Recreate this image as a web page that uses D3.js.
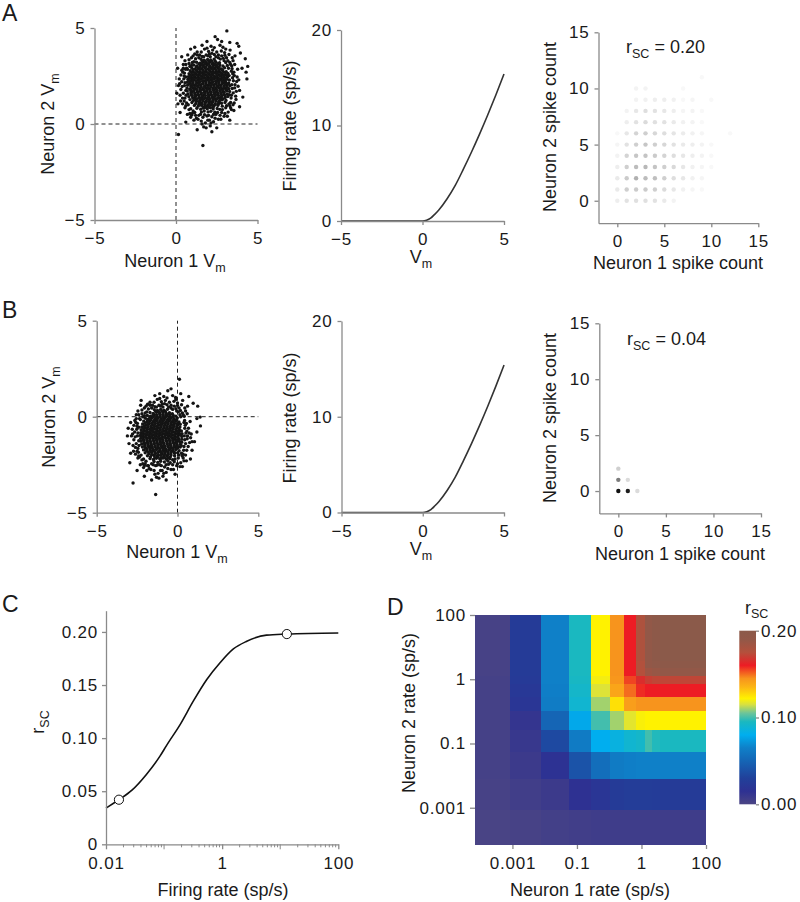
<!DOCTYPE html>
<html><head><meta charset="utf-8">
<script src="https://cdn.jsdelivr.net/npm/d3@7"></script>
<style>
body{margin:0;background:#fff;}
svg{display:block;}
</style></head><body>
<svg id="fig" width="800" height="902"></svg>
<script>
// ---------------- DATA ----------------
const vmTicks = [-5, 0, 5];
const rateTicks = [0, 10, 20];
const countTicks = [0, 5, 10, 15];

// Panel A scatter (Neuron 1 Vm, Neuron 2 Vm)
const scatterA = [
[1.56,0.62],[1.73,0.68],[1.97,0.63],[2.14,0.66],[2.38,0.61],
[1.28,0.82],[1.52,0.77],[1.69,0.83],[1.92,0.79],[2.11,0.84],[2.28,0.78],[2.53,0.81],[2.69,0.76],
[1.13,0.97],[1.36,0.93],[1.55,0.98],[1.77,0.92],[1.94,0.96],[2.16,0.99],[2.33,0.94],[2.57,0.97],[2.84,0.93],
[0.98,1.12],[1.21,1.07],[1.42,1.11],[1.58,1.08],[1.81,1.13],[2.02,1.09],[2.19,1.12],[2.41,1.06],[2.62,1.11],[2.79,1.08],[3.01,1.12],
[0.86,1.27],[1.07,1.22],[1.24,1.28],[1.46,1.23],[1.63,1.26],[1.86,1.21],[2.04,1.27],[2.27,1.24],[2.44,1.29],[2.66,1.22],[2.83,1.26],[3.07,1.23],
[0.79,1.42],[1.02,1.37],[1.18,1.41],[1.41,1.38],[1.62,1.43],[1.79,1.36],[2.01,1.42],[2.22,1.39],[2.38,1.44],[2.61,1.37],[2.79,1.41],[3.02,1.38],[3.18,1.43],
[0.74,1.57],[0.93,1.52],[1.16,1.56],[1.33,1.53],[1.55,1.58],[1.74,1.51],[1.97,1.56],[2.13,1.54],[2.36,1.57],[2.55,1.52],[2.76,1.58],[2.93,1.53],[3.14,1.56],[3.27,1.52],
[0.69,1.72],[0.91,1.67],[1.08,1.71],[1.31,1.68],[1.49,1.73],[1.72,1.66],[1.88,1.71],[2.09,1.69],[2.31,1.74],[2.48,1.67],[2.71,1.72],[2.88,1.68],[3.11,1.73],[3.29,1.69],
[0.67,1.87],[0.84,1.82],[1.06,1.86],[1.23,1.83],[1.46,1.88],[1.64,1.81],[1.85,1.86],[2.04,1.84],[2.26,1.87],[2.43,1.82],[2.65,1.88],[2.84,1.83],[3.03,1.86],[3.24,1.84],
[0.71,2.02],[0.92,1.97],[1.13,2.01],[1.32,1.98],[1.51,2.03],[1.74,1.96],[1.93,2.01],[2.12,1.99],[2.34,2.04],[2.53,1.97],[2.72,2.02],[2.94,1.98],[3.12,2.03],[3.31,1.99],
[0.68,2.17],[0.87,2.12],[1.04,2.16],[1.27,2.13],[1.43,2.18],[1.66,2.11],[1.84,2.16],[2.06,2.14],[2.23,2.17],[2.46,2.12],[2.63,2.18],[2.86,2.13],[3.04,2.16],[3.23,2.14],
[0.73,2.32],[0.94,2.27],[1.12,2.31],[1.34,2.28],[1.53,2.33],[1.72,2.26],[1.94,2.31],[2.13,2.29],[2.32,2.34],[2.54,2.27],[2.73,2.32],[2.92,2.28],[3.13,2.33],[3.28,2.29],
[0.76,2.47],[0.96,2.42],[1.14,2.46],[1.36,2.43],[1.57,2.48],[1.76,2.41],[1.95,2.46],[2.16,2.44],[2.36,2.47],[2.55,2.42],[2.77,2.48],[2.96,2.43],[3.17,2.46],[3.26,2.52],
[0.8,2.62],[1.03,2.57],[1.21,2.61],[1.42,2.58],[1.63,2.63],[1.82,2.56],[2.03,2.61],[2.22,2.59],[2.44,2.64],[2.63,2.57],[2.82,2.62],[3.04,2.58],[3.19,2.63],
[0.87,2.77],[1.06,2.72],[1.27,2.76],[1.46,2.73],[1.67,2.78],[1.86,2.71],[2.07,2.76],[2.26,2.74],[2.47,2.77],[2.66,2.72],[2.86,2.78],[3.08,2.73],
[0.97,2.92],[1.16,2.87],[1.37,2.91],[1.58,2.88],[1.77,2.93],[1.98,2.86],[2.17,2.91],[2.38,2.89],[2.57,2.92],[2.78,2.87],[2.98,2.93],
[1.09,3.07],[1.28,3.02],[1.49,3.06],[1.68,3.03],[1.89,3.08],[2.08,3.01],[2.29,3.06],[2.48,3.04],[2.69,3.07],[2.88,3.02],
[1.26,3.22],[1.47,3.17],[1.66,3.21],[1.87,3.18],[2.06,3.23],[2.27,3.16],[2.46,3.21],[2.67,3.19],
[1.54,3.37],[1.73,3.32],[1.94,3.36],[2.13,3.33],[2.34,3.38],
[1.66,0.88],[1.85,0.86],[2.04,0.89],[2.26,0.87],
[1.41,1.03],[1.61,1.01],[1.79,1.04],[2.01,1.02],[2.2,1.03],[2.39,1.01],[2.6,1.04],
[1.26,1.18],[1.45,1.16],[1.66,1.19],[1.85,1.17],[2.06,1.18],[2.25,1.16],[2.46,1.19],[2.65,1.17],
[1.1,1.33],[1.3,1.31],[1.51,1.34],[1.7,1.32],[1.91,1.33],[2.1,1.31],[2.31,1.34],[2.5,1.32],[2.71,1.33],[2.9,1.31],
[1.0,1.48],[1.2,1.46],[1.41,1.49],[1.6,1.47],[1.81,1.48],[2.0,1.46],[2.21,1.49],[2.4,1.47],[2.61,1.48],[2.8,1.46],[3.0,1.49],
[0.95,1.63],[1.15,1.61],[1.36,1.64],[1.55,1.62],[1.76,1.63],[1.95,1.61],[2.16,1.64],[2.35,1.62],[2.56,1.63],[2.75,1.61],[2.96,1.64],
[0.9,1.78],[1.1,1.76],[1.3,1.79],[1.5,1.77],[1.7,1.78],[1.9,1.76],[2.1,1.79],[2.3,1.77],[2.5,1.78],[2.7,1.76],[2.9,1.79],[3.1,1.77],
[0.95,1.93],[1.15,1.91],[1.35,1.94],[1.55,1.92],[1.75,1.93],[1.95,1.91],[2.15,1.94],[2.35,1.92],[2.55,1.93],[2.75,1.91],[2.95,1.94],[3.14,1.92],
[0.82,2.08],[1.02,2.06],[1.22,2.09],[1.42,2.07],[1.62,2.08],[1.83,2.06],[2.03,2.09],[2.23,2.07],[2.43,2.08],[2.63,2.06],[2.83,2.09],[3.03,2.07],[3.2,2.08],
[0.84,2.23],[1.03,2.21],[1.23,2.24],[1.44,2.22],[1.63,2.23],[1.83,2.21],[2.03,2.24],[2.24,2.22],[2.43,2.23],[2.63,2.21],[2.83,2.24],[3.03,2.22],
[0.85,2.38],[1.05,2.36],[1.25,2.39],[1.45,2.37],[1.65,2.38],[1.85,2.36],[2.05,2.39],[2.25,2.37],[2.45,2.38],[2.65,2.36],[2.85,2.39],[3.05,2.37],
[0.9,2.53],[1.1,2.51],[1.3,2.54],[1.5,2.52],[1.7,2.53],[1.9,2.51],[2.1,2.54],[2.3,2.52],[2.5,2.53],[2.7,2.51],[2.9,2.54],[3.1,2.52],
[0.95,2.68],[1.15,2.66],[1.35,2.69],[1.55,2.67],[1.75,2.68],[1.95,2.66],[2.15,2.69],[2.35,2.67],[2.55,2.68],[2.75,2.66],[2.95,2.69],
[1.05,2.83],[1.25,2.81],[1.45,2.84],[1.65,2.82],[1.85,2.83],[2.05,2.81],[2.25,2.84],[2.45,2.82],[2.65,2.83],[2.85,2.81],
[1.25,2.98],[1.45,2.96],[1.65,2.99],[1.85,2.97],[2.05,2.98],[2.25,2.96],[2.45,2.99],[2.65,2.97],
[1.4,3.13],[1.6,3.11],[1.8,3.14],[2.0,3.12],[2.2,3.13],[2.4,3.11],[2.6,3.14],
[1.6,3.28],[1.8,3.26],[2.0,3.29],[2.2,3.27],[2.4,3.28],
[3.42,2.05],[3.51,1.62],[3.47,2.41],[3.6,1.88],[3.38,1.35],[3.55,2.7],[3.72,2.21],[3.66,1.45],[3.44,2.88],[3.81,1.97],[3.35,1.12],[3.58,2.52],[3.7,1.7],
[3.15,3.05],[3.3,3.2],[2.95,3.3],[3.42,3.02],[3.1,3.45],[2.8,3.55],[3.25,3.62],[3.5,3.3],[2.98,3.72],[3.6,3.1],[3.05,3.9],
[1.6,3.52],[1.85,3.6],[2.1,3.5],[2.35,3.62],[2.6,3.45],[1.4,3.45],[2.0,3.78],[2.25,3.85],[1.75,3.9],[2.5,3.75],[2.15,4.05],[1.55,3.75],
[1.0,3.2],[0.85,3.0],[1.2,3.4],[0.7,2.85],[0.95,3.45],[0.6,3.1],[1.15,3.65],[0.45,2.9],[0.8,3.35],
[0.52,2.0],[0.45,1.6],[0.5,2.5],[0.35,2.2],[0.55,1.35],[0.3,1.8],[0.42,2.7],[0.2,2.35],[0.25,1.5],[0.15,2.0],[0.58,2.85],
[0.65,1.1],[0.8,0.75],[1.0,0.55],[0.55,0.85],[0.9,0.35],[1.2,0.45],[0.4,1.05],[0.7,0.5],[1.1,0.2],
[1.4,0.45],[1.65,0.35],[1.9,0.42],[2.2,0.38],[2.45,0.5],[1.55,0.15],[1.8,0.05],[2.05,0.2],[2.3,0.12],[1.7,-0.15],[2.1,-0.1],[2.6,0.25],
[2.8,0.6],[3.05,0.85],[3.3,0.95],[2.95,0.4],[3.2,0.62],[3.5,1.0],[2.75,0.25],[3.4,0.75],
[3.45,1.85],[3.52,2.25],[3.4,1.5],[3.62,2.05],[3.48,2.62],[3.75,2.45],[3.68,1.28],[3.85,2.3],[3.57,1.1],[3.9,1.75],[3.4,2.75],[3.78,2.85],
[3.22,2.9],[3.35,3.1],[3.05,3.2],[2.9,3.42],[3.18,3.3],[2.72,3.38],[3.45,3.45],[3.0,3.58],[2.78,3.8],[3.32,3.85],[3.62,3.55],[2.88,4.0],
[1.45,3.6],[1.7,3.5],[1.95,3.55],[2.2,3.68],[2.45,3.5],[1.9,3.95],[2.35,3.98],[2.6,3.6],[1.3,3.6],[2.05,3.65],[2.7,4.1],[1.6,4.1],
[0.95,3.05],[1.1,3.25],[0.8,3.15],[0.65,2.9],[1.05,3.55],[0.55,3.3],[0.72,3.6],[1.3,3.75],[0.45,3.1],
[0.55,2.15],[0.6,1.75],[0.48,2.35],[0.38,1.95],[0.62,1.5],[0.3,2.55],[0.52,2.65],[0.4,1.35],[0.22,2.1],[0.28,1.2],[0.6,2.45],[0.36,2.8],
[0.75,1.0],[0.9,0.8],[1.05,0.68],[0.6,0.95],[0.85,0.55],[1.15,0.6],[0.5,1.2],[0.95,0.45],[1.25,0.3],
[1.5,0.5],[1.75,0.48],[2.0,0.45],[2.3,0.5],[2.55,0.6],[1.35,0.25],[1.95,0.2],[2.4,0.3],[1.6,0.0],[2.15,0.05],[1.85,-0.2],
[2.85,0.75],[3.1,0.95],[3.25,1.05],[3.0,0.55],[3.35,0.85],[2.7,0.45],[3.15,0.4],[3.55,0.7],
[3.12,4.85],[1.65,-1.12],[0.15,-0.55],[4.3,2.7],[4.25,3.4],[4.35,2.35],[4.1,1.4],[3.95,3.7],[3.85,4.05],[2.55,4.4],[2.4,4.55],[1.15,4.0],[0.9,3.9],[0.1,2.9],[0.05,1.6],[0.12,1.05],[0.25,0.6],[0.6,0.1],[1.3,-0.3],[2.2,-0.4],[2.5,-0.2],[3.3,0.2],[3.9,0.9],[4.05,2.9],[3.75,4.2],[4.4,3.0],[0.35,3.5],[2.8,4.3],[3.3,4.25],[1.9,4.3]
];

// Panel B scatter
const scatterB = [
[-1.45,-2.33],[-1.22,-2.38],[-1.04,-2.32],[-0.81,-2.36],[-0.6,-2.31],
[-1.7,-2.18],[-1.49,-2.23],[-1.31,-2.17],[-1.08,-2.21],[-0.9,-2.16],[-0.69,-2.22],[-0.48,-2.19],[-0.3,-2.24],
[-1.86,-2.03],[-1.67,-2.08],[-1.45,-2.02],[-1.26,-2.06],[-1.04,-2.01],[-0.85,-2.07],[-0.63,-2.04],[-0.44,-2.09],[-0.18,-2.03],
[-2.0,-1.88],[-1.78,-1.93],[-1.6,-1.87],[-1.37,-1.91],[-1.19,-1.86],[-0.97,-1.92],[-0.79,-1.89],[-0.57,-1.94],[-0.4,-1.87],[-0.18,-1.91],[0.01,-1.88],
[-2.1,-1.73],[-1.91,-1.78],[-1.7,-1.72],[-1.5,-1.76],[-1.31,-1.71],[-1.09,-1.77],[-0.9,-1.74],[-0.69,-1.79],[-0.5,-1.72],[-0.3,-1.76],[-0.1,-1.71],[0.1,-1.77],
[-2.17,-1.58],[-1.98,-1.63],[-1.79,-1.57],[-1.57,-1.61],[-1.38,-1.56],[-1.18,-1.62],[-0.97,-1.59],[-0.78,-1.64],[-0.57,-1.57],[-0.38,-1.61],[-0.19,-1.56],[0.02,-1.62],[0.17,-1.58],
[-2.22,-1.43],[-2.03,-1.48],[-1.84,-1.42],[-1.62,-1.46],[-1.43,-1.41],[-1.22,-1.47],[-1.04,-1.44],[-0.83,-1.49],[-0.63,-1.42],[-0.44,-1.46],[-0.22,-1.41],[-0.04,-1.47],[0.16,-1.44],[0.23,-1.5],
[-2.26,-1.28],[-2.07,-1.33],[-1.87,-1.27],[-1.66,-1.31],[-1.47,-1.26],[-1.27,-1.32],[-1.07,-1.29],[-0.88,-1.34],[-0.68,-1.27],[-0.47,-1.31],[-0.28,-1.26],[-0.07,-1.32],[0.12,-1.29],[0.26,-1.33],
[-2.28,-1.13],[-2.1,-1.18],[-1.9,-1.12],[-1.7,-1.16],[-1.51,-1.11],[-1.3,-1.17],[-1.12,-1.14],[-0.92,-1.19],[-0.71,-1.12],[-0.52,-1.16],[-0.32,-1.11],[-0.13,-1.17],[0.08,-1.14],[0.27,-1.18],
[-2.3,-0.98],[-2.12,-1.03],[-1.93,-0.97],[-1.73,-1.01],[-1.53,-0.96],[-1.33,-1.02],[-1.14,-0.99],[-0.94,-1.04],[-0.74,-0.97],[-0.53,-1.01],[-0.34,-0.96],[-0.15,-1.02],[0.05,-0.99],[0.26,-1.03],
[-2.27,-0.83],[-2.08,-0.88],[-1.88,-0.82],[-1.68,-0.86],[-1.49,-0.81],[-1.28,-0.87],[-1.1,-0.84],[-0.9,-0.89],[-0.69,-0.82],[-0.5,-0.86],[-0.3,-0.81],[-0.11,-0.87],[0.1,-0.84],[0.28,-0.88],
[-2.25,-0.68],[-2.05,-0.73],[-1.86,-0.67],[-1.65,-0.71],[-1.46,-0.66],[-1.26,-0.72],[-1.06,-0.69],[-0.86,-0.74],[-0.67,-0.67],[-0.46,-0.71],[-0.27,-0.66],[-0.07,-0.72],[0.12,-0.69],[0.24,-0.74],
[-2.21,-0.53],[-2.02,-0.58],[-1.82,-0.52],[-1.61,-0.56],[-1.42,-0.51],[-1.22,-0.57],[-1.02,-0.54],[-0.82,-0.59],[-0.63,-0.52],[-0.43,-0.56],[-0.23,-0.51],[-0.03,-0.57],[0.15,-0.54],
[-2.16,-0.38],[-1.96,-0.43],[-1.77,-0.37],[-1.56,-0.41],[-1.37,-0.36],[-1.17,-0.42],[-0.97,-0.39],[-0.77,-0.44],[-0.58,-0.37],[-0.38,-0.41],[-0.18,-0.36],[0.01,-0.42],[0.17,-0.39],
[-2.09,-0.23],[-1.9,-0.28],[-1.7,-0.22],[-1.49,-0.26],[-1.3,-0.21],[-1.1,-0.27],[-0.9,-0.24],[-0.7,-0.29],[-0.51,-0.22],[-0.31,-0.26],[-0.11,-0.21],[0.09,-0.27],
[-1.99,-0.08],[-1.8,-0.13],[-1.6,-0.07],[-1.39,-0.11],[-1.2,-0.06],[-1.0,-0.12],[-0.8,-0.09],[-0.6,-0.14],[-0.41,-0.07],[-0.21,-0.11],[-0.01,-0.06],
[-1.87,0.07],[-1.67,0.02],[-1.47,0.08],[-1.27,0.04],[-1.07,0.09],[-0.87,0.03],[-0.67,0.06],[-0.47,0.01],[-0.27,0.08],[-0.1,0.03],
[-1.7,0.22],[-1.5,0.17],[-1.3,0.23],[-1.1,0.19],[-0.9,0.24],[-0.7,0.18],[-0.5,0.21],[-0.32,0.16],
[-1.44,0.37],[-1.24,0.32],[-1.04,0.38],[-0.84,0.34],[-0.62,0.39],
[-1.4,-2.13],[-1.2,-2.11],[-1.0,-2.14],[-0.8,-2.12],[-0.6,-2.13],
[-1.6,-1.98],[-1.4,-1.96],[-1.2,-1.99],[-1.0,-1.97],[-0.8,-1.98],[-0.6,-1.96],[-0.4,-1.99],
[-1.8,-1.83],[-1.6,-1.81],[-1.4,-1.84],[-1.2,-1.82],[-1.0,-1.83],[-0.8,-1.81],[-0.6,-1.84],[-0.4,-1.82],[-0.2,-1.83],
[-1.9,-1.68],[-1.7,-1.66],[-1.5,-1.69],[-1.3,-1.67],[-1.1,-1.68],[-0.9,-1.66],[-0.7,-1.69],[-0.5,-1.67],[-0.3,-1.68],[-0.1,-1.66],
[-2.0,-1.53],[-1.8,-1.51],[-1.6,-1.54],[-1.4,-1.52],[-1.2,-1.53],[-1.0,-1.51],[-0.8,-1.54],[-0.6,-1.52],[-0.4,-1.53],[-0.2,-1.51],[0.0,-1.54],
[-2.05,-1.38],[-1.85,-1.36],[-1.65,-1.39],[-1.45,-1.37],[-1.25,-1.38],[-1.05,-1.36],[-0.85,-1.39],[-0.65,-1.37],[-0.45,-1.38],[-0.25,-1.36],[-0.05,-1.39],
[-2.1,-1.23],[-1.9,-1.21],[-1.7,-1.24],[-1.5,-1.22],[-1.3,-1.23],[-1.1,-1.21],[-0.9,-1.24],[-0.7,-1.22],[-0.5,-1.23],[-0.3,-1.21],[-0.1,-1.24],[0.08,-1.22],
[-2.2,-1.08],[-2.0,-1.06],[-1.8,-1.09],[-1.6,-1.07],[-1.4,-1.08],[-1.2,-1.06],[-1.0,-1.09],[-0.8,-1.07],[-0.6,-1.08],[-0.4,-1.06],[-0.2,-1.09],[0.0,-1.07],
[-2.2,-0.93],[-2.0,-0.91],[-1.8,-0.94],[-1.6,-0.92],[-1.4,-0.93],[-1.2,-0.91],[-1.0,-0.94],[-0.8,-0.92],[-0.6,-0.93],[-0.4,-0.91],[-0.2,-0.94],[0.0,-0.92],[0.15,-0.93],
[-2.15,-0.78],[-1.95,-0.76],[-1.75,-0.79],[-1.55,-0.77],[-1.35,-0.78],[-1.15,-0.76],[-0.95,-0.79],[-0.75,-0.77],[-0.55,-0.78],[-0.35,-0.76],[-0.15,-0.79],[0.05,-0.77],
[-2.1,-0.63],[-1.9,-0.61],[-1.7,-0.64],[-1.5,-0.62],[-1.3,-0.63],[-1.1,-0.61],[-0.9,-0.64],[-0.7,-0.62],[-0.5,-0.63],[-0.3,-0.61],[-0.1,-0.64],[0.08,-0.62],
[-2.05,-0.48],[-1.85,-0.46],[-1.65,-0.49],[-1.45,-0.47],[-1.25,-0.48],[-1.05,-0.46],[-0.85,-0.49],[-0.65,-0.47],[-0.45,-0.48],[-0.25,-0.46],[-0.05,-0.49],
[-2.0,-0.33],[-1.8,-0.31],[-1.6,-0.34],[-1.4,-0.32],[-1.2,-0.33],[-1.0,-0.31],[-0.8,-0.34],[-0.6,-0.32],[-0.4,-0.33],[-0.2,-0.31],[0.0,-0.34],
[-1.85,-0.18],[-1.65,-0.16],[-1.45,-0.19],[-1.25,-0.17],[-1.05,-0.18],[-0.85,-0.16],[-0.65,-0.19],[-0.45,-0.17],[-0.25,-0.18],[-0.05,-0.16],
[-1.7,-0.03],[-1.5,-0.01],[-1.3,-0.04],[-1.1,-0.02],[-0.9,-0.03],[-0.7,-0.01],[-0.5,-0.04],[-0.3,-0.02],
[-1.5,0.13],[-1.3,0.11],[-1.1,0.14],[-0.9,0.12],[-0.7,0.13],[-0.5,0.11],
[-1.35,0.28],[-1.15,0.26],[-0.95,0.29],[-0.75,0.27],
[0.42,-1.0],[0.5,-1.4],[0.45,-0.6],[0.6,-1.15],[0.38,-1.75],[0.55,-0.35],[0.72,-0.85],[0.66,-1.55],[0.44,-0.2],[0.81,-1.1],[0.35,-1.95],[0.58,-0.75],
[0.15,0.1],[0.3,0.2],[-0.05,0.3],[0.42,0.02],[0.1,0.45],[-0.2,0.55],[0.25,0.62],[0.5,0.3],[0.0,0.72],[0.6,0.15],[-0.1,0.9],
[-1.4,0.52],[-1.15,0.6],[-0.9,0.5],[-0.65,0.62],[-0.4,0.45],[-1.6,0.45],[-1.0,0.78],[-0.75,0.85],[-1.25,0.9],[-0.5,0.75],[-0.85,1.05],[-1.45,0.75],
[-2.0,0.2],[-2.15,0.0],[-1.8,0.4],[-2.3,-0.15],[-2.05,0.45],[-2.4,0.1],[-1.85,0.65],[-2.55,-0.1],[-2.2,0.35],
[-2.48,-1.0],[-2.55,-1.4],[-2.5,-0.5],[-2.65,-0.8],[-2.45,-1.65],[-2.7,-1.2],[-2.58,-0.3],[-2.8,-0.65],[-2.75,-1.5],[-2.85,-1.0],[-2.42,-1.85],
[-2.35,-2.1],[-2.2,-2.25],[-2.0,-2.45],[-2.45,-2.15],[-2.1,-2.65],[-1.8,-2.55],[-2.6,-1.95],[-2.3,-2.5],[-1.9,-2.8],
[-1.6,-2.45],[-1.35,-2.55],[-1.1,-2.5],[-0.8,-2.62],[-0.55,-2.48],[-1.45,-2.8],[-1.2,-2.95],[-0.95,-2.8],[-0.7,-2.9],[-1.3,-3.15],[-0.9,-3.1],[-0.4,-2.75],
[-0.2,-2.35],[0.05,-2.15],[0.3,-2.05],[-0.05,-2.55],[0.2,-2.4],[0.5,-2.0],[-0.25,-2.75],[0.4,-2.3],
[0.45,-1.2],[0.52,-0.85],[0.4,-1.55],[0.62,-1.0],[0.48,-0.45],[0.75,-1.35],[0.68,-0.6],[0.85,-0.9],[0.57,-1.75],[0.9,-1.3],[0.4,-0.3],[0.78,-0.25],
[0.2,0.0],[0.35,0.1],[0.05,0.25],[-0.1,0.42],[0.18,0.32],[-0.3,0.38],[0.45,0.45],[0.0,0.58],[-0.22,0.8],[0.32,0.85],[0.62,0.55],[-0.12,1.0],
[-1.55,0.6],[-1.3,0.5],[-1.05,0.55],[-0.8,0.68],[-0.55,0.5],[-1.1,0.95],[-0.65,0.98],[-0.4,0.6],[-1.7,0.6],[-0.95,0.65],[-0.3,1.1],[-1.4,1.1],
[-2.05,0.05],[-1.9,0.25],[-2.2,0.15],[-2.35,-0.1],[-1.95,0.55],[-2.45,0.3],[-2.28,0.6],[-1.7,0.75],[-2.55,0.1],
[-2.45,-0.85],[-2.4,-1.25],[-2.52,-0.65],[-2.62,-1.05],[-2.38,-1.5],[-2.7,-0.45],[-2.48,-0.35],[-2.6,-1.6],[-2.78,-0.9],[-2.72,-1.8],[-2.4,-0.55],[-2.64,-0.2],
[-2.25,-2.0],[-2.1,-2.2],[-1.95,-2.32],[-2.4,-2.05],[-2.15,-2.45],[-1.85,-2.55],[-2.5,-1.8],[-2.05,-2.55],[-1.75,-2.7],
[-1.5,-2.5],[-1.25,-2.52],[-1.0,-2.55],[-0.7,-2.5],[-0.45,-2.4],[-1.65,-2.75],[-1.05,-2.8],[-0.6,-2.7],[-1.4,-3.0],[-0.85,-2.95],[-1.15,-3.2],
[-0.15,-2.2],[0.1,-2.0],[0.25,-1.9],[0.0,-2.45],[0.35,-2.15],[-0.3,-2.5],[0.15,-2.6],[0.55,-2.3],
[-1.35,-4.05],[-2.75,-3.45],[0.12,1.95],[1.4,-0.02],[1.42,-0.48],[1.2,-0.1],[1.25,0.55],[0.97,0.7],[0.7,1.05],[-0.4,1.45],[-0.6,1.35],[-1.1,1.2],[-2.25,0.85],[-2.9,-0.3],[-3.05,-0.6],[-3.0,-1.4],[-2.9,-1.9],[-2.95,-2.4],[-2.5,-2.8],[-2.05,-3.1],[-1.6,-3.3],[-0.7,-3.3],[-0.15,-3.0],[0.3,-2.6],[0.9,-1.75],[1.05,-1.3],[1.2,-0.8],[0.8,-2.2],[-3.1,-1.0],[0.2,1.2]
];

// Firing-rate nonlinearity (Vm -> sp/s)
const vmGrid = [-5,-4,-3,-2,-1,0,0.25,0.5,0.75,1,1.5,2,2.5,3,3.5,4,4.5,5];
const rateCurve = [0,0,0,0,0,0,0.08,0.3,0.7,1.15,2.3,3.7,5.4,7.2,9.1,11.1,13.2,15.4];

// Joint spike-count distributions (shade 0..1), rows = neuron 2 count 0.., cols = neuron 1 count 0..
const countsA = [
[0.07,0.12,0.13,0.13,0.12,0.09,0.05,0,0,0,0,0,0],
[0.09,0.2,0.22,0.22,0.2,0.15,0.1,0.06,0.04,0.03,0,0,0],
[0.09,0.22,0.33,0.28,0.27,0.2,0.14,0.1,0.06,0.04,0,0,0],
[0.07,0.2,0.28,0.3,0.25,0.2,0.16,0.1,0.06,0.04,0.03,0,0],
[0.05,0.18,0.24,0.25,0.22,0.18,0.14,0.1,0.07,0.05,0.03,0,0],
[0.04,0.12,0.2,0.24,0.2,0.17,0.12,0.09,0.07,0.05,0.03,0,0],
[0.03,0.1,0.18,0.2,0.17,0.14,0.11,0.08,0.06,0.04,0,0,0.03],
[0,0.07,0.12,0.15,0.13,0.12,0.09,0.06,0.05,0.03,0,0,0],
[0,0.05,0.1,0.14,0.12,0.1,0.07,0.04,0.05,0.03,0,0,0],
[0,0,0.05,0.06,0.07,0.07,0.06,0.03,0.04,0,0.03,0,0],
[0,0,0.05,0.05,0,0,0,0.03,0,0,0,0,0],
[0,0,0,0,0,0,0,0,0,0.03,0,0,0]
];
const countsB = [
[1.0,0.95,0.15],
[0.55,0.15],
[0.2]
];
const rscLabels = ["0.20", "0.04"];

// Panel C: rSC vs firing rate
const rateC = [0.01,0.0167,0.028,0.05,0.085,0.11,0.19,0.32,0.54,0.92,1.56,2.6,5.8,13,100];
const rscC  = [0.034,0.042,0.051,0.066,0.083,0.093,0.113,0.135,0.155,0.171,0.184,0.191,0.197,0.198,0.199];
const markedC = [[0.0167,0.042],[13,0.198]];
const rscTicks = [0, 0.05, 0.10, 0.15, 0.20];

// Panel D: heat map (bin edges in axis-tick units, shared by both rates)
const heatTickLabels = ["0.001", "0.1", "1", "100"];
const heatEdges = [-0.58,-0.036,0.45,0.87,1.21,1.51,1.73,1.92,2.05,2.17,2.29,3.0];
const heatRsc = [
[0.001,0.002,0.004,0.005,0.006,0.006,0.006,0.006,0.006,0.006,0.006],
[0.002,0.005,0.008,0.015,0.02,0.025,0.027,0.027,0.027,0.026,0.025],
[0.003,0.008,0.016,0.04,0.055,0.062,0.064,0.065,0.065,0.065,0.065],
[0.003,0.01,0.035,0.062,0.08,0.085,0.09,0.092,0.1,0.096,0.095],
[0.003,0.012,0.05,0.078,0.1,0.11,0.117,0.121,0.122,0.122,0.122],
[0.003,0.02,0.063,0.09,0.11,0.126,0.142,0.145,0.145,0.145,0.145],
[0.003,0.022,0.064,0.092,0.116,0.14,0.15,0.158,0.16,0.16,0.16],
[0.003,0.024,0.065,0.094,0.12,0.144,0.155,0.165,0.17,0.172,0.172],
[0.002,0.025,0.065,0.095,0.122,0.145,0.16,0.175,0.185,0.188,0.19],
[0.002,0.025,0.065,0.095,0.122,0.145,0.16,0.176,0.19,0.195,0.197],
[0.002,0.025,0.065,0.095,0.122,0.145,0.16,0.178,0.19,0.197,0.2]
];
const cmapStops  = [0,0.015,0.03,0.05,0.065,0.08,0.095,0.105,0.115,0.122,0.135,0.145,0.16,0.175,0.19,0.2];
const cmapColors = ["#4b4584","#2e3192","#21409a","#1565b5","#0f80c8","#00aeef","#1ab8c0","#6cc49a","#d8e040","#fff200","#fcb615","#f7941d","#ed1c24","#b4503c","#925848","#8b5a4a"];
const cbarTicks = [0, 0.1, 0.2];

// ---------------- DRAWING ----------------
const FONT = '"Liberation Sans", Arial, Helvetica, sans-serif';
const AXC = "#8a8a8a";
const TXT = "#1a1a1a";
const svg = d3.select("#fig");
svg.append("rect").attr("width",800).attr("height",902).attr("fill","#fff");

function styleAxis(g, noDomain){
  g.attr("font-family", FONT).attr("font-size", 17);
  if (noDomain) g.select(".domain").remove();
  else g.select(".domain").attr("stroke", AXC).attr("stroke-width", 1.3);
  g.selectAll(".tick line").attr("stroke", AXC).attr("stroke-width", 1.3);
  g.selectAll(".tick text").attr("fill", TXT).style("letter-spacing", "0.8px");
}

function label(x, y, main, sub, rest, opt){
  opt = opt || {};
  const t = svg.append("text").attr("font-family", FONT).attr("font-size", opt.fs || 18)
    .attr("fill", TXT).attr("text-anchor", opt.anchor || "middle");
  if (opt.rotate) t.attr("transform", `translate(${x},${y}) rotate(-90)`);
  else t.attr("x", x).attr("y", y);
  t.append("tspan").text(main);
  const sdy = opt.subdy || 5;
  if (sub) t.append("tspan").attr("font-size", opt.subfs || 12.5).attr("dy", sdy).text(sub);
  if (rest) t.append("tspan").attr("dy", -sdy).text(rest);
  return t;
}

function panelLetter(x, y, s){
  svg.append("text").attr("x", x).attr("y", y).attr("font-family", FONT)
    .attr("font-size", 23).attr("fill", TXT).text(s);
}

// --- scatter panels
function scatterPanel(pts, xr, yr){
  const x = d3.scaleLinear().domain([-5,5]).range(xr);
  const y = d3.scaleLinear().domain([-5,5]).range(yr);
  svg.append("line").attr("x1", x(0)).attr("x2", x(0)).attr("y1", y(-5)).attr("y2", y(5))
    .attr("stroke", "#222").attr("stroke-width", 1).attr("stroke-dasharray", "4,3");
  svg.append("line").attr("x1", x(-5)).attr("x2", x(5)).attr("y1", y(0)).attr("y2", y(0))
    .attr("stroke", "#222").attr("stroke-width", 1).attr("stroke-dasharray", "4,3");
  svg.append("g").selectAll("circle").data(pts).join("circle")
    .attr("cx", d => x(d[0])).attr("cy", d => y(d[1])).attr("r", 1.7).attr("fill", "#141414");
  svg.append("g").attr("transform", `translate(${xr[0]},0)`)
    .call(d3.axisLeft(y).tickValues(vmTicks).tickSize(4).tickPadding(5).tickSizeOuter(0))
    .call(g => styleAxis(g));
  svg.append("g").attr("transform", `translate(0,${yr[0]})`)
    .call(d3.axisBottom(x).tickValues(vmTicks).tickSize(4).tickPadding(8).tickSizeOuter(0))
    .call(g => styleAxis(g));
}

// --- nonlinearity panels
function ratePanel(xr, yr){
  const x = d3.scaleLinear().domain([-5,5]).range(xr);
  const y = d3.scaleLinear().domain([0,20]).range(yr);
  const pts = vmGrid.map((v,i) => [v, rateCurve[i]]);
  svg.append("path").datum(pts)
    .attr("d", d3.line().x(d => x(d[0])).y(d => y(d[1])).curve(d3.curveMonotoneX))
    .attr("fill", "none").attr("stroke", "#333").attr("stroke-width", 1.6);
  svg.append("g").attr("transform", `translate(${xr[0]},0)`)
    .call(d3.axisLeft(y).tickValues(rateTicks).tickSize(4).tickPadding(5).tickSizeOuter(0))
    .call(g => styleAxis(g));
  svg.append("g").attr("transform", `translate(0,${yr[0]})`)
    .call(d3.axisBottom(x).tickValues(vmTicks).tickSize(4).tickPadding(8).tickSizeOuter(0))
    .call(g => styleAxis(g));
}

// --- spike count panels
function countPanel(counts, xr, yr){
  const x = d3.scaleLinear().domain([-2,15]).range(xr);
  const y = d3.scaleLinear().domain([-2,15]).range(yr);
  const shade = d3.interpolateRgb("#ffffff", "#111111");
  const cells = [];
  counts.forEach((row, j) => row.forEach((v, i) => { if (v > 0) cells.push({i, j, v}); }));
  svg.append("g").selectAll("circle").data(cells).join("circle")
    .attr("cx", d => x(d.i)).attr("cy", d => y(d.j)).attr("r", 2.2)
    .attr("fill", d => shade(d.v));
  svg.append("g").attr("transform", `translate(${xr[0]},0)`)
    .call(d3.axisLeft(y).tickValues(countTicks).tickSize(4).tickPadding(5).tickSizeOuter(0))
    .call(g => styleAxis(g));
  svg.append("g").attr("transform", `translate(0,${yr[0]})`)
    .call(d3.axisBottom(x).tickValues(countTicks).tickSize(4).tickPadding(8).tickSizeOuter(0))
    .call(g => styleAxis(g));
}

// Row A
panelLetter(2, 21, "A");
scatterPanel(scatterA, [94.5, 257.5], [220, 28]);
label(175, 267, "Neuron 1 V", "m");
label(54, 124, "Neuron 2 V", "m", null, {rotate: true});
ratePanel([341, 504], [221, 30]);
label(421, 263, "V", "m");
label(296, 126, "Firing rate (sp/s)", null, null, {rotate: true});
countPanel(countsA, [598.5, 758.3], [223.2, 32.3]);
label(678, 269, "Neuron 1 spike count");
label(556, 127, "Neuron 2 spike count", null, null, {rotate: true});
label(626, 53, "r", "SC", " = " + rscLabels[0], {anchor: "start"});

// Row B
panelLetter(2, 318, "B");
scatterPanel(scatterB, [96.7, 258.3], [512.7, 320.7]);
label(177, 558, "Neuron 1 V", "m");
label(55, 417, "Neuron 2 V", "m", null, {rotate: true});
ratePanel([341.5, 504], [512.5, 321]);
label(421, 555, "V", "m");
label(296, 418, "Firing rate (sp/s)", null, null, {rotate: true});
countPanel(countsB, [599.3, 761], [513.4, 323.3]);
label(680, 560, "Neuron 1 spike count");
label(556, 418, "Neuron 2 spike count", null, null, {rotate: true});
label(627, 345, "r", "SC", " = " + rscLabels[1], {anchor: "start"});

// Panel C
panelLetter(2, 612, "C");
{
  const x = d3.scaleLog().domain([0.01, 100]).range([106, 338.3]);
  const y = d3.scaleLinear().domain([0, 0.22]).range([844.3, 610.7]);
  const pts = rateC.map((r, i) => [r, rscC[i]]);
  svg.append("path").datum(pts)
    .attr("d", d3.line().x(d => x(d[0])).y(d => y(d[1])).curve(d3.curveMonotoneX))
    .attr("fill", "none").attr("stroke", "#111").attr("stroke-width", 1.6);
  svg.append("g").selectAll("circle").data(markedC).join("circle")
    .attr("cx", d => x(d[0])).attr("cy", d => y(d[1])).attr("r", 4.6)
    .attr("fill", "#fff").attr("stroke", "#111").attr("stroke-width", 1);
  svg.append("g").attr("transform", "translate(106,0)")
    .call(d3.axisLeft(y).tickValues(rscTicks).tickSize(4).tickPadding(4).tickSizeOuter(0)
      .tickFormat(d => d === 0 ? "0" : d3.format(".2f")(d)))
    .call(g => styleAxis(g));
  const gx = svg.append("g").attr("transform", "translate(0,844.3)")
    .call(d3.axisBottom(x).tickValues([0.01, 1, 100]).tickSize(5).tickPadding(8).tickSizeOuter(0)
      .tickFormat(d => String(d)))
    .call(g => styleAxis(g));
  const minor = x.ticks().filter(v => [0.01, 1, 100].indexOf(v) < 0);
  gx.selectAll("line.minor").data(minor).join("line").attr("class", "minor")
    .attr("x1", d => x(d)).attr("x2", d => x(d)).attr("y1", 0)
    .attr("y2", d => Math.abs(Math.log10(d) - Math.round(Math.log10(d))) < 1e-9 ? 5 : 3)
    .attr("stroke", AXC).attr("stroke-width", 1);
  label(223, 896, "Firing rate (sp/s)");
  label(44, 722, "r", "SC", null, {rotate: true});
}

// Panel D
panelLetter(387, 615, "D");
{
  const x = d3.scaleLinear().domain([heatEdges[0], 3]).range([475, 706]);
  const y = d3.scaleLinear().domain([heatEdges[0], 3]).range([845, 615]);
  const color = d3.scaleLinear().domain(cmapStops).range(cmapColors).clamp(true);
  const cells = [];
  heatRsc.forEach((row, j) => row.forEach((v, i) => cells.push({i, j, v})));
  svg.append("g").attr("shape-rendering", "crispEdges").selectAll("rect").data(cells).join("rect")
    .attr("x", d => x(heatEdges[d.i]))
    .attr("width", d => x(heatEdges[d.i + 1]) - x(heatEdges[d.i]))
    .attr("y", d => y(heatEdges[d.j + 1]))
    .attr("height", d => y(heatEdges[d.j]) - y(heatEdges[d.j + 1]))
    .attr("fill", d => color(d.v));
  const tv = [0, 1, 2, 3];
  svg.append("g").attr("transform", "translate(475,0)")
    .call(d3.axisLeft(y).tickValues(tv).tickFormat((d, i) => heatTickLabels[i]).tickSize(5).tickPadding(4))
    .call(g => styleAxis(g, true));
  svg.append("g").attr("transform", "translate(0,845)")
    .call(d3.axisBottom(x).tickValues(tv).tickFormat((d, i) => heatTickLabels[i]).tickSize(4).tickPadding(8))
    .call(g => styleAxis(g, true));
  label(590, 896, "Neuron 1 rate (sp/s)");
  label(415, 713, "Neuron 2 rate (sp/s)", null, null, {rotate: true});

  // colour bar
  const cb = d3.scaleLinear().domain([0, 0.2]).range([804.3, 630.7]);
  const grad = svg.append("defs").append("linearGradient").attr("id", "cbg")
    .attr("x1", 0).attr("y1", 1).attr("x2", 0).attr("y2", 0);
  grad.selectAll("stop").data(cmapStops).join("stop")
    .attr("offset", d => d / 0.2).attr("stop-color", (d, i) => cmapColors[i]);
  svg.append("rect").attr("x", 739.3).attr("y", cb(0.2)).attr("width", 16.7)
    .attr("height", cb(0) - cb(0.2)).attr("fill", "url(#cbg)");
  svg.append("g").attr("transform", "translate(756,0)")
    .call(d3.axisRight(cb).tickValues(cbarTicks).tickFormat(d3.format(".2f")).tickSize(3).tickPadding(2))
    .call(g => styleAxis(g, true));
  label(745, 614, "r", "SC", null, {anchor: "start", subdy: 4});
}
</script></body></html>
